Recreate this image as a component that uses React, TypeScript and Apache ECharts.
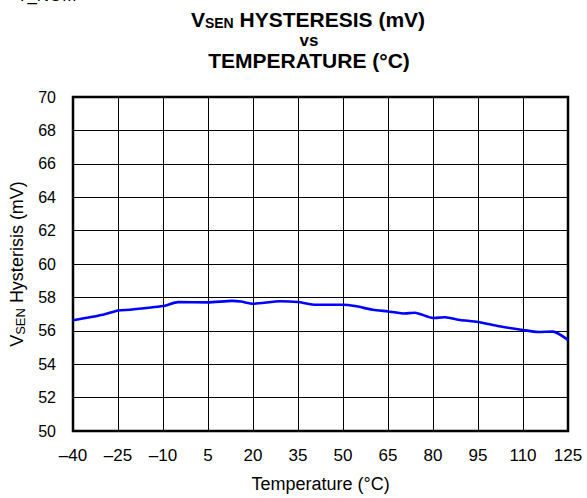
import React, { useEffect, useRef } from "react";
import * as echarts from "echarts";

const temps = [-40, -30, -25, -21, -10, -5, 5, 13, 16, 20, 29, 35, 41, 50, 54, 60, 65, 70, 74, 80, 84, 89, 95, 102, 110, 115, 120, 125];
const hysteresis = [56.63, 56.96, 57.22, 57.26, 57.48, 57.72, 57.7, 57.79, 57.75, 57.62, 57.77, 57.72, 57.56, 57.56, 57.48, 57.26, 57.16, 57.04, 57.08, 56.77, 56.81, 56.65, 56.53, 56.27, 56.05, 55.93, 55.95, 55.46];
const xTicks = { min: -40, max: 125, step: 15 };
const yTicks = { min: 50, max: 70, step: 2 };

const FONT = "Liberation Sans, Arial, sans-serif";

export default function App() {
  const ref = useRef<HTMLDivElement>(null);
  useEffect(() => {
    document.body.style.margin = "0";
    const chart = echarts.init(ref.current!, null, { renderer: "svg" });
    chart.setOption({
      animation: false,
      textStyle: { fontFamily: FONT, color: "#000" },
      grid: { left: 73, right: 19, top: 97, bottom: 64, show: true, borderColor: "#000", borderWidth: 2.5, backgroundColor: "#fff" },
      xAxis: {
        type: "value",
        min: xTicks.min,
        max: xTicks.max,
        interval: xTicks.step,
        name: "Temperature (°C)",
        nameLocation: "middle",
        nameGap: 44,
        nameTextStyle: { fontSize: 18, color: "#000", fontFamily: FONT },
        axisLine: { show: false },
        axisTick: { show: false },
        axisLabel: {
          fontSize: 17,
          color: "#000",
          fontFamily: FONT,
          margin: 16,
          formatter: (v: number) => String(v).replace("-", "\u2013"),
        },
        splitLine: { show: true, lineStyle: { color: "#000", width: 1 } },
      },
      yAxis: {
        type: "value",
        min: yTicks.min,
        max: yTicks.max,
        interval: yTicks.step,
        name: "{v|V}{s|SEN}{v| Hysterisis (mV)}",
        nameLocation: "middle",
        nameGap: 45,
        nameRotate: 90,
        nameTextStyle: {
          color: "#000",
          fontFamily: FONT,
          rich: {
            v: { fontSize: 18, fontFamily: FONT, color: "#000", lineHeight: 20 },
            s: { fontSize: 13, fontFamily: FONT, color: "#000", lineHeight: 8, verticalAlign: "bottom" },
          },
        },
        axisLine: { show: false },
        axisTick: { show: false },
        axisLabel: { fontSize: 16, color: "#000", fontFamily: FONT, margin: 17 },
        splitLine: { show: true, lineStyle: { color: "#000", width: 1 } },
      },
      series: [
        {
          type: "line",
          data: temps.map((t, i) => [t, hysteresis[i]]),
          showSymbol: false,
          smooth: 0.2,
          lineStyle: { color: "#0000ff", width: 2.6 },
          z: 5,
        },
      ],
      graphic: [
        {
          type: "text",
          x: 17,
          y: 4,
          style: { text: "T_NOM", fontSize: 17, fontFamily: FONT, fill: "#000", verticalAlign: "bottom" },
        },
        {
          type: "text",
          x: 308,
          y: 19.5,
          style: {
            text: "{v|V}{s|SEN}{v| HYSTERESIS (mV)}",
            align: "center",
            verticalAlign: "middle",
            fill: "#000",
            rich: {
              v: { fontSize: 21, fontWeight: "bold", fontFamily: FONT, fill: "#000", lineHeight: 20 },
              s: { fontSize: 14, fontWeight: "bold", fontFamily: FONT, fill: "#000", lineHeight: 10, verticalAlign: "bottom" },
            },
          },
        },
        {
          type: "text",
          x: 309,
          y: 40.5,
          style: { text: "vs", align: "center", verticalAlign: "middle", fontSize: 17, lineHeight: 15, fontWeight: "bold", fontFamily: FONT, fill: "#000" },
        },
        {
          type: "text",
          x: 309,
          y: 60.5,
          style: { text: "TEMPERATURE (°C)", align: "center", verticalAlign: "middle", fontSize: 21, lineHeight: 20, fontWeight: "bold", fontFamily: FONT, fill: "#000" },
        },
      ],
    });
    return () => chart.dispose();
  }, []);
  return <div ref={ref} style={{ width: 587, height: 498 }} />;
}
